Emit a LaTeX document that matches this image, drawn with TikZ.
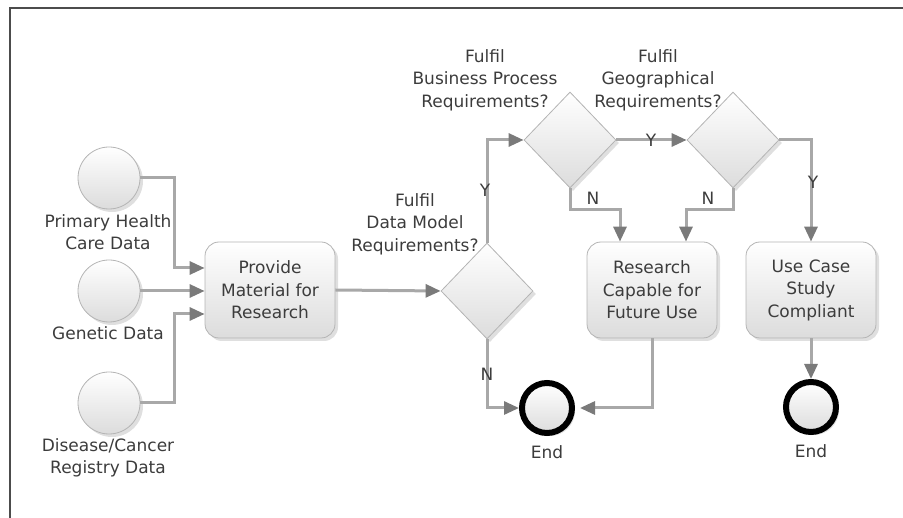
\documentclass[tikz,border=0pt]{standalone}
\usepackage{fontspec}
\setmainfont{DejaVu Sans}
\usetikzlibrary{shapes.geometric,arrows.meta,shadows,calc}
\definecolor{linec}{HTML}{A8A8A8}
\definecolor{tipc}{HTML}{7A7A7A}
\definecolor{txtc}{HTML}{3C3C3C}
\definecolor{edgec}{HTML}{B4B4B4}
\definecolor{fillb}{HTML}{DCDCDC}
\begin{document}
\begin{tikzpicture}[x=1pt,y=-1pt,
  font=\fontsize{17}{22.5}\selectfont, text=txtc,
  every shadow/.style={opacity=0.25, shadow xshift=3pt, shadow yshift=-3pt},
  shaded/.style={top color=white, bottom color=fillb, draw=edgec, line width=0.8pt},
  startev/.style={circle, shaded, minimum size=62pt, inner sep=0pt, drop shadow},
  endev/.style={circle, draw=black, line width=6pt, minimum size=50pt, inner sep=0pt, top color=white, bottom color=fillb, drop shadow},
  task/.style={rectangle, rounded corners=14pt, shaded, minimum width=130pt, minimum height=96pt, align=center, inner sep=2pt, drop shadow},
  gate/.style={diamond, shaded, minimum width=92pt, minimum height=96pt, inner sep=0pt, drop shadow},
  lbl/.style={align=center, inner sep=0pt},
  yn/.style={inner sep=0pt},
  arr/.style={draw=linec, line width=3pt, -{Triangle[length=15pt,width=13pt,color=tipc]}},
]
\useasboundingbox (0,0) rectangle (903,518);
\draw[color=black!70, line width=1.5pt] (903,8) -- (10,8) -- (10,518);

% start events
\node[startev] (s1) at (109,178) {};
\node[startev] (s2) at (109,291) {};
\node[startev] (s3) at (109,403) {};
\node[lbl] (s1l) at (108,232) {Primary Health\\Care Data};
\node[lbl] (s2l) at (108,333) {Genetic Data};
\node[lbl] (s3l) at (108,458) {Disease/Cancer\\Registry Data};

% tasks
\node[task] (pm) at (270,290) {Provide\\Material for\\Research};
\node[task] (rc) at (652,290) {Research\\Capable for\\Future Use};
\node[task] (uc) at (811,290) {Use Case\\Study\\Compliant};

% gateways
\node[gate] (d1) at (487,291) {};
\node[gate] (d2) at (570,140) {};
\node[gate] (d3) at (733,140) {};
\node[lbl] (d1l) at (415,224) {Fulfil\\Data Model\\Requirements?};
\node[lbl] (d2l) at (485,80) {Fulfil\\Business Process\\Requirements?};
\node[lbl] (d3l) at (658,80) {Fulfil\\Geographical\\Requirements?};

% end events
\node[endev] (e1) at (547,408) {};
\node[endev] (e2) at (811,407) {};
\node[lbl] (e1l) at (547,452) {End};
\node[lbl] (e2l) at (811,451) {End};

% connectors
\draw[arr] (s1.east) -| ($(pm.west)+(-30,-22)$) -- ([yshift=22pt]pm.west);
\draw[arr] (s2.east) -- (pm.west |- s2.east);
\draw[arr] (s3.east) -| ($(pm.west)+(-30,24)$) -- ([yshift=-24pt]pm.west);
\draw[arr] (pm.east) -- (d1.west);
\draw[arr] (d1.north) |- (d2.west);
\draw[arr] (d2.east) -- (d3.west);
\draw[arr] (d3.east) -| (uc.north);
\draw[arr] (d2.south) -- ++(0,21) -| ([xshift=-32pt]rc.north);
\draw[arr] (d3.south) -- ++(0,21) -| ([xshift=34pt]rc.north);
\draw[arr] (d1.south) |- (e1.west);
\draw[arr] (rc.south) |- ([xshift=5pt]e1.east);
\draw[arr] (uc.south) -- (e2.north);

% Y / N labels
\node[yn] (y1) at (485,190) {Y};
\node[yn] (y2) at (651,140) {Y};
\node[yn] (y3) at (813,182) {Y};
\node[yn] (n1) at (593,198) {N};
\node[yn] (n2) at (708,198) {N};
\node[yn] (n3) at (487,374) {N};
\end{tikzpicture}
\end{document}
